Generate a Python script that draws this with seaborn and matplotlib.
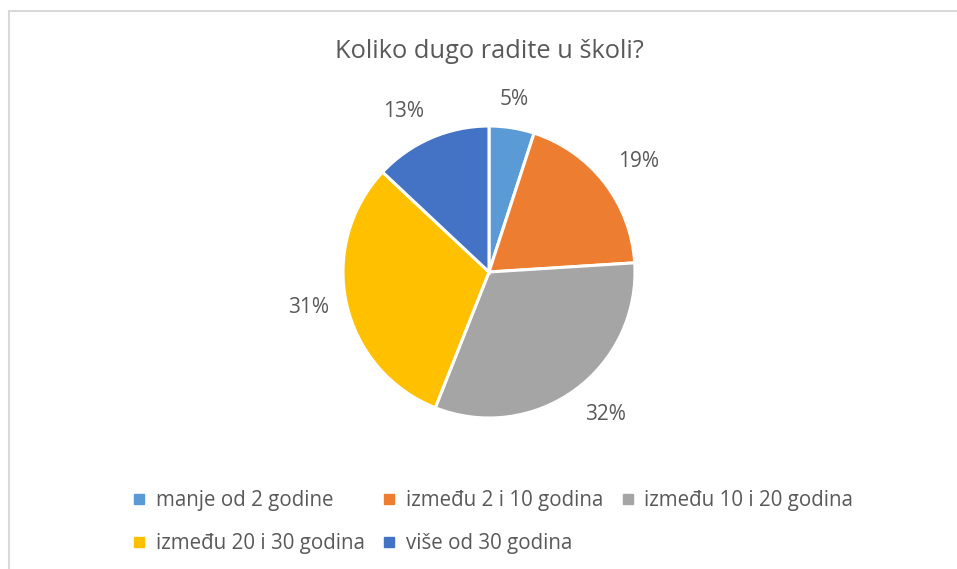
import matplotlib.pyplot as plt
import numpy as np
import seaborn as sns
from matplotlib.lines import Line2D

TITLE = "Koliko dugo radite u školi?"
CATEGORIES = [
    "manje od 2 godine",
    "između 2 i 10 godina",
    "između 10 i 20 godina",
    "između 20 i 30 godina",
    "više od 30 godina",
]
PERCENTS = [5, 19, 32, 31, 13]
COLORS = ["#5B9BD5", "#ED7D31", "#A5A5A5", "#FFC000", "#4472C4"]
TEXT_COLOR = "#595959"

W, H = 957, 569
CENTER_X, CENTER_Y, RADIUS = 489, 272, 146


def place_outside(ax, wedge, text, dist=1.12):
    # Excel-like "outside end": the label's near edge sits just past the rim
    theta = np.deg2rad((wedge.theta1 + wedge.theta2) / 2)
    c, s = np.cos(theta), np.sin(theta)
    text.set_position((dist * c, dist * s))
    text.set_ha("left" if c > 0.3 else "right" if c < -0.3 else "center")
    text.set_va("bottom" if s > 0.3 else "top" if s < -0.3 else "center")
    text.set_clip_on(False)


def main():
    sns.set_theme(style="white")
    plt.rcParams["font.family"] = ["Open Sans", "DejaVu Sans"]

    fig = plt.figure(figsize=(W / 100, H / 100), dpi=100)
    fig.patch.set_facecolor("white")

    # chart area border (only top and left edges fall inside the picture)
    fig.add_artist(Line2D([8.5 / W, 1], [1 - 10.5 / H, 1 - 10.5 / H], color="#D9D9D9", lw=1.5))
    fig.add_artist(Line2D([8.5 / W, 8.5 / W], [0, 1 - 10.5 / H], color="#D9D9D9", lw=1.5))

    # pie sets limits to +-1.25 radius, so size the axes accordingly
    side = 2 * 1.25 * RADIUS
    ax = fig.add_axes([
        (CENTER_X - side / 2) / W,
        (H - CENTER_Y - side / 2) / H,
        side / W,
        side / H,
    ])
    wedges, _, autotexts = ax.pie(
        PERCENTS,
        colors=COLORS,
        startangle=90,
        counterclock=False,
        autopct=lambda p: f"{p:.0f}%",
        wedgeprops={"edgecolor": "white", "linewidth": 2.2},
        textprops={"color": TEXT_COLOR, "fontsize": 15},
    )
    for w, t in zip(wedges, autotexts):
        place_outside(ax, w, t)

    fig.text(CENTER_X / W, 1 - 51 / H, TITLE, ha="center", va="center",
             fontsize=18.3, color=TEXT_COLOR)

    handles = [
        Line2D([], [], marker="s", linestyle="none", markersize=6.5,
               markerfacecolor=c, markeredgecolor=c)
        for c in COLORS
    ]
    # matplotlib fills legend columns first; reorder so entries read row by row
    order = [0, 3, 1, 4, 2]
    fig.legend(
        [handles[i] for i in order],
        [CATEGORIES[i] for i in order],
        ncol=3,
        loc="center",
        bbox_to_anchor=(493 / W, 1 - 522 / H),
        frameon=False,
        fontsize=14.8,
        labelcolor=TEXT_COLOR,
        handlelength=0.6,
        handletextpad=0.5,
        columnspacing=0.9,
        labelspacing=1.1,
    )

    fig.savefig("out.png", dpi=100)


if __name__ == "__main__":
    main()
